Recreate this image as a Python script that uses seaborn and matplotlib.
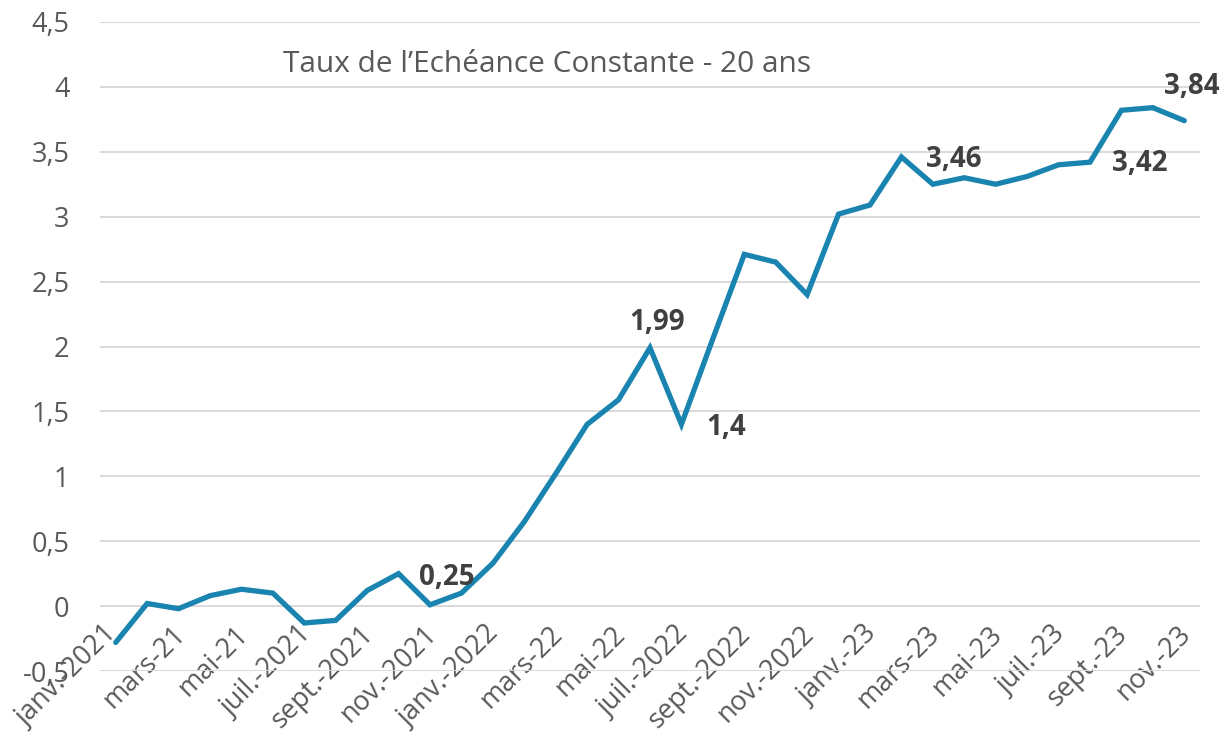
import matplotlib.pyplot as plt
import matplotlib.transforms as mtransforms
import seaborn as sns

# Monthly 20-year constant maturity rate, Jan 2021 - Nov 2023
months = [
    "janv.-2021", "févr.-21", "mars-21", "avr.-21", "mai-21", "juin-21",
    "juil.-2021", "août-21", "sept.-2021", "oct.-21", "nov.-2021", "déc.-21",
    "janv.-2022", "févr.-22", "mars-22", "avr.-22", "mai-22", "juin-22",
    "juil.-2022", "août-22", "sept.-2022", "oct.-22", "nov.-2022", "déc.-22",
    "janv.-23", "févr.-23", "mars-23", "avr.-23", "mai-23", "juin-23",
    "juil.-23", "août-23", "sept.-23", "oct.-23", "nov.-23",
]
rates = [
    -0.28, 0.02, -0.02, 0.08, 0.13, 0.10, -0.13, -0.11, 0.12, 0.25, 0.01, 0.10,
    0.33, 0.65, 1.02, 1.40, 1.59, 1.99, 1.40, 2.06, 2.71, 2.65, 2.40, 3.02,
    3.09, 3.46, 3.25, 3.30, 3.25, 3.31, 3.40, 3.42, 3.82, 3.84, 3.74,
]
# labelled points: (index, text, offset in points)
labelled = [
    (9, "0,25", (35, -3)),
    (17, "1,99", (5, 18)),
    (18, "1,4", (32, -2)),
    (25, "3,46", (38, -2)),
    (31, "3,42", (36, -1)),
    (33, "3,84", (28, 15)),
]
title = "Taux de l\u2019Echéance Constante - 20 ans"

sns.set_style("white")
plt.rcParams["font.family"] = ["Open Sans", "DejaVu Sans"]

LINE = "#1A84B0"
GREY = "#595959"
DARK = "#404040"

fig = plt.figure(figsize=(12.24, 7.48), dpi=100)
ax = fig.add_axes([100 / 1224, 1 - 671 / 748, 1100 / 1224, 649 / 748])

x = list(range(len(months)))
sns.lineplot(x=x, y=rates, ax=ax, color=LINE, linewidth=3.8)
ax.lines[0].set_solid_joinstyle("miter")

ax.set_xlim(-0.5, len(months) - 0.5)
ax.set_ylim(-0.5, 4.5)
yt = [i * 0.5 for i in range(-1, 10)]
ax.set_yticks(yt)
ax.set_yticklabels([f"{v:g}".replace(".", ",") for v in yt])
ax.yaxis.grid(True, color="#D9D9D9", linewidth=1.4)
ax.set_axisbelow(True)

for s in ax.spines.values():
    s.set_visible(False)
# category labels sit on the zero line as in Excel
ax.spines["bottom"].set_position(("data", 0))
ax.set_xticks(x[::2])
ax.set_xticklabels(months[::2], rotation=45, ha="right", va="top")
ax.tick_params(axis="x", length=0, pad=10, labelsize=19.5, labelcolor=GREY)
ax.tick_params(axis="y", length=0, pad=22, labelsize=19.5, labelcolor=GREY)
for i, lab in enumerate(ax.get_xticklabels()):
    dx = 5 if i == 0 else 9
    lab.set_transform(lab.get_transform() + mtransforms.ScaledTranslation(dx / 72, 0, fig.dpi_scale_trans))

for idx, txt, off in labelled:
    ax.annotate(txt, (idx, rates[idx]), xytext=off, textcoords="offset points",
                ha="center", va="center", fontsize=20, fontweight="bold", color=DARK)

ax.text(0.406, 0.935, title, transform=ax.transAxes, ha="center", va="center",
        fontsize=21.5, color=GREY)

fig.savefig("out.png", dpi=100)
